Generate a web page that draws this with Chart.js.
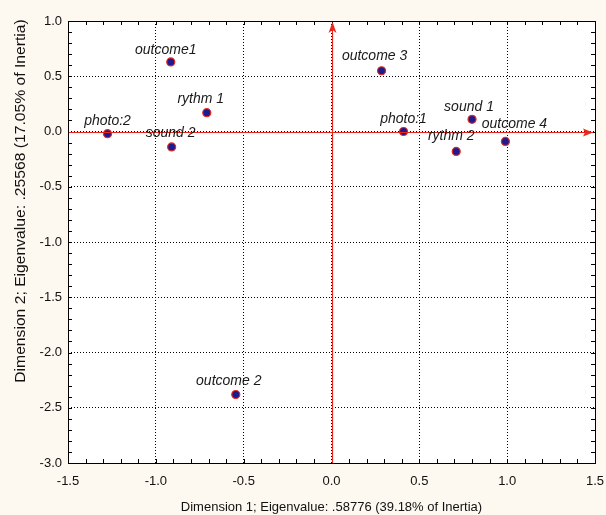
<!DOCTYPE html>
<html>
<head>
<meta charset="utf-8">
<script src="https://cdn.jsdelivr.net/npm/chart.js@4.4.1/dist/chart.umd.min.js"></script>
<style>
  html, body { margin: 0; padding: 0; background: #fdf8f0; }
  #wrap { width: 606px; height: 515px; }
</style>
</head>
<body>
<div id="wrap"><canvas id="c" width="606" height="515"></canvas></div>
<script>
// ─── DATA ─────────────────────────────────────────────────────────────
const names = ['photo:2', 'outcome1', 'rythm 1', 'sound 2', 'outcome 3', 'photo:1', 'sound 1', 'rythm 2', 'outcome 4', 'outcome 2'];
const dim1  = [-1.275, -0.915, -0.71, -0.91, 0.285, 0.41, 0.80, 0.71, 0.99, -0.545];
const dim2  = [-0.02, 0.63, 0.17, -0.14, 0.55, 0.0, 0.11, -0.18, -0.09, -2.38];
const xTicks = [-1.5, -1.0, -0.5, 0.0, 0.5, 1.0, 1.5];
const yTicks = [1.0, 0.5, 0.0, -0.5, -1.0, -1.5, -2.0, -2.5, -3.0];
const xTitle = 'Dimension 1; Eigenvalue: .58776 (39.18% of Inertia)';
const yTitle = 'Dimension 2; Eigenvalue: .25568 (17.05% of Inertia)';

// label nudges (px), layout only
const labelDx = [0, -5, -6, -1, -7, 0, -3, -5, 9, -7];
const labelDy = [-9, -8, -10, -10, -11, -9, -8, -11, -13, -9];

const FONT = '"Liberation Sans", Arial, sans-serif';

// ─── PLUGINS ──────────────────────────────────────────────────────────
const frame = {
  id: 'frame',
  beforeDraw(chart) {
    const { ctx, chartArea: a } = chart;
    ctx.save();
    ctx.fillStyle = '#ffffff';
    ctx.fillRect(a.left, a.top, a.right - a.left, a.bottom - a.top);
    ctx.restore();
  },
  afterDatasetsDraw(chart) {
    const { ctx, chartArea: a, scales: { x, y } } = chart;
    ctx.save();
    // minor ticks
    ctx.strokeStyle = '#000';
    ctx.lineWidth = 1;
    ctx.beginPath();
    for (let i = -15; i <= 15; i++) {
      const px = Math.round(x.getPixelForValue(i / 10)) + 0.5;
      ctx.moveTo(px, a.bottom); ctx.lineTo(px, a.bottom - 4);
      ctx.moveTo(px, a.top); ctx.lineTo(px, a.top + 4);
    }
    for (let i = -30; i <= 10; i++) {
      const py = Math.round(y.getPixelForValue(i / 10)) + 0.5;
      ctx.moveTo(a.left, py); ctx.lineTo(a.left + 4, py);
      ctx.moveTo(a.right, py); ctx.lineTo(a.right - 4, py);
    }
    ctx.stroke();
    // red axes
    const x0 = Math.round(x.getPixelForValue(0)) + 0.5;
    const y0 = Math.round(y.getPixelForValue(0)) + 0.5;
    ctx.strokeStyle = '#e8281e';
    ctx.fillStyle = '#e8281e';
    ctx.lineWidth = 1.2;
    ctx.beginPath();
    ctx.moveTo(a.left, y0); ctx.lineTo(a.right - 2, y0);
    ctx.moveTo(x0, a.bottom); ctx.lineTo(x0, a.top + 2);
    ctx.stroke();
    ctx.beginPath();
    ctx.moveTo(a.right - 2, y0); ctx.lineTo(a.right - 12, y0 - 4); ctx.lineTo(a.right - 10, y0); ctx.lineTo(a.right - 12, y0 + 4);
    ctx.closePath(); ctx.fill();
    ctx.beginPath();
    ctx.moveTo(x0, a.top + 1); ctx.lineTo(x0 - 4, a.top + 12); ctx.lineTo(x0, a.top + 9); ctx.lineTo(x0 + 4, a.top + 12);
    ctx.closePath(); ctx.fill();
    // border
    ctx.strokeStyle = '#000';
    ctx.lineWidth = 1;
    ctx.strokeRect(Math.round(a.left) + 0.5, Math.round(a.top) + 0.5, Math.round(a.right - a.left), Math.round(a.bottom - a.top));
    ctx.restore();
  },
  afterDraw(chart) {
    const { ctx } = chart;
    const meta = chart.getDatasetMeta(0);
    ctx.save();
    ctx.font = 'italic 14px ' + FONT;
    ctx.fillStyle = '#1a1a1a';
    ctx.textAlign = 'center';
    ctx.textBaseline = 'alphabetic';
    meta.data.forEach((pt, i) => {
      ctx.fillText(names[i], pt.x + labelDx[i], pt.y + labelDy[i]);
    });
    ctx.restore();

    // y title, stretched like the original
    ctx.save();
    ctx.translate(21, 201);
    ctx.rotate(-Math.PI / 2);
    ctx.scale(1.12, 1);
    ctx.font = '14px ' + FONT;
    ctx.fillStyle = '#111';
    ctx.textAlign = 'center';
    ctx.textBaseline = 'middle';
    ctx.fillText(yTitle, 0, 0);
    ctx.restore();
  },
};

// ─── CHART ────────────────────────────────────────────────────────────
new Chart(document.getElementById('c'), {
  type: 'scatter',
  data: {
    datasets: [{
      data: dim1.map((v, i) => ({ x: v, y: dim2[i] })),
      pointStyle: 'circle',
      pointRadius: 4,
      backgroundColor: '#1c1c90',
      borderColor: '#e8281e',
      borderWidth: 1.2,
    }],
  },
  options: {
    responsive: false,
    animation: false,
    layout: { padding: { top: 21, right: 11, left: 0, bottom: 0 } },
    plugins: { legend: { display: false }, tooltip: { enabled: false } },
    scales: {
      x: {
        type: 'linear', min: -1.5, max: 1.5,
        afterBuildTicks: s => { s.ticks = xTicks.map(v => ({ value: v })); },
        afterFit: s => { s.height = 52; s.paddingLeft = 0; s.paddingRight = 0; },
        ticks: { color: '#111', font: { family: FONT, size: 13 }, padding: 11, maxRotation: 0,
                 callback: v => v.toFixed(1) },
        grid: { color: '#000', lineWidth: 1, drawTicks: false },
        border: { display: false, dash: [1, 2] },
        title: { display: true, text: xTitle,
                 color: '#111', font: { family: FONT, size: 13 }, padding: { top: 4, bottom: 0 } },
      },
      y: {
        type: 'linear', min: -3.0, max: 1.0,
        afterBuildTicks: s => { s.ticks = yTicks.map(v => ({ value: v })); },
        afterFit: s => { s.width = 68; s.paddingTop = 0; s.paddingBottom = 0; },
        ticks: { color: '#111', font: { family: FONT, size: 13 }, padding: 6,
                 callback: v => v.toFixed(1) },
        grid: { color: '#000', lineWidth: 1, drawTicks: false },
        border: { display: false, dash: [1, 2] },
        title: { display: false },
      },
    },
  },
  plugins: [frame],
});
</script>
</body>
</html>
